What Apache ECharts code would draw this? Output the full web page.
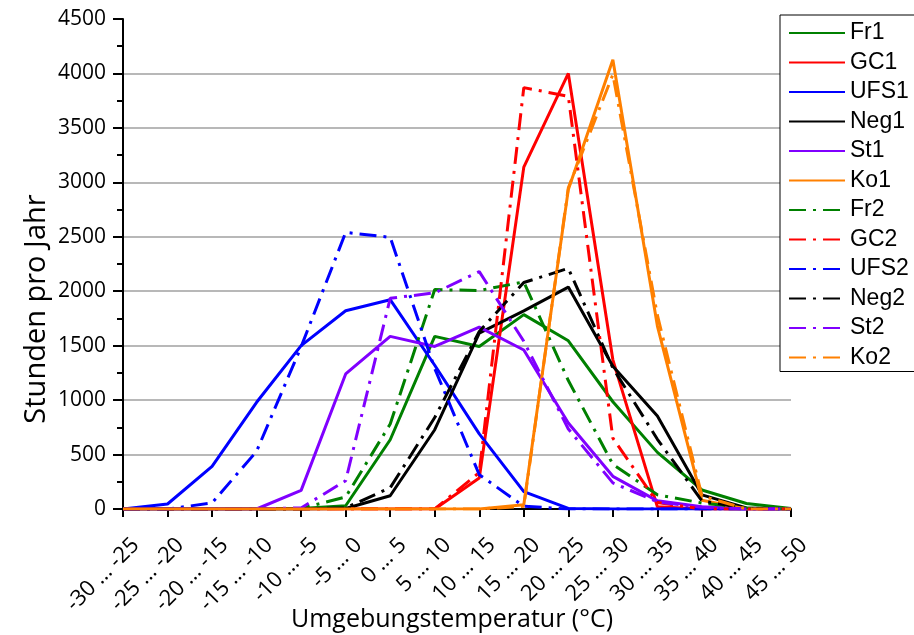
<!DOCTYPE html>
<html>
<head>
<meta charset="utf-8">
<script src="https://cdn.jsdelivr.net/npm/echarts@6/dist/echarts.min.js"></script>
<style>
html,body{margin:0;padding:0;background:#fff;}
#chart{width:914px;height:635px;}
</style>
</head>
<body>
<div id="chart"></div>
<script>
const categories = ["-30 … -25","-25 … -20","-20 … -15","-15 … -10","-10 … -5","-5 … 0","0 … 5","5 … 10","10 … 15","15 … 20","20 … 25","25 … 30","30 … 35","35 … 40","40 … 45","45 … 50"];
const yTicks = [0, 500, 1000, 1500, 2000, 2500, 3000, 3500, 4000, 4500];

const Fr1  = [0, 0, 0, 0, 5, 30, 636, 1585, 1493, 1785, 1545, 985, 520, 175, 50, 5];
const GC1  = [0, 0, 0, 0, 0, 0, 0, 0, 285, 3140, 4000, 1370, 20, 0, 0, 0];
const UFS1 = [0, 46, 391, 980, 1500, 1821, 1922, 1320, 690, 160, 5, 0, 0, 0, 0, 0];
const Neg1 = [0, 0, 0, 0, 0, 5, 122, 728, 1616, 1820, 2038, 1310, 855, 130, 10, 0];
const St1  = [0, 0, 0, 0, 171, 1240, 1585, 1493, 1671, 1460, 790, 300, 75, 20, 0, 0];
const Ko1  = [0, 0, 0, 0, 0, 0, 0, 0, 0, 40, 2935, 4126, 1680, 80, 0, 0];
const Fr2  = [0, 0, 0, 0, 5, 110, 780, 2015, 2007, 2085, 1180, 410, 130, 55, 10, 0];
const GC2  = [0, 0, 0, 0, 0, 0, 0, 0, 335, 3870, 3790, 650, 60, 0, 0, 0];
const UFS2 = [0, 0, 55, 530, 1490, 2540, 2495, 1290, 315, 25, 0, 0, 0, 0, 0, 0];
const Neg2 = [0, 0, 0, 0, 0, 10, 195, 840, 1630, 2080, 2210, 1295, 640, 75, 5, 0];
const St2  = [0, 0, 0, 0, 10, 260, 1935, 1985, 2180, 1540, 735, 240, 65, 15, 0, 0];
const Ko2  = [0, 0, 0, 0, 0, 0, 0, 0, 0, 25, 2950, 3990, 1780, 120, 0, 0];

const seriesNames = ["Fr1","GC1","UFS1","Neg1","St1","Ko1","Fr2","GC2","UFS2","Neg2","St2","Ko2"];
const seriesData = [Fr1, GC1, UFS1, Neg1, St1, Ko1, Fr2, GC2, UFS2, Neg2, St2, Ko2];
const seriesColors = ["#008000","#ff0000","#0000ff","#000000","#8000ff","#ff8000","#008000","#ff0000","#0000ff","#000000","#8000ff","#ff8000"];
const dashDot = [17, 7, 3, 7];

const chart = echarts.init(document.getElementById('chart'), null, {renderer: 'canvas'});
const fontMain = '"Open Sans", "Noto Sans", sans-serif';

const series = seriesNames.map((name, i) => ({
  name: name,
  type: 'line',
  data: seriesData[i],
  symbol: 'none',
  smooth: false,
  animation: false,
  lineStyle: {
    color: seriesColors[i],
    width: 3,
    type: i < 6 ? 'solid' : dashDot
  },
  itemStyle: {color: seriesColors[i]}
}));

chart.setOption({
  animation: false,
  backgroundColor: '#ffffff',
  grid: {left: 123, right: 123, top: 19, bottom: 126, containLabel: false, outerBoundsMode: 'none'},
  legend: {
    orient: 'vertical',
    left: 780,
    top: 15,
    data: seriesNames,
    backgroundColor: '#ffffff',
    borderColor: '#000000',
    borderWidth: 1,
    borderRadius: 0,
    padding: [6, 60, 2, 8],
    itemWidth: 56,
    itemHeight: 14,
    itemGap: 5.5,
    itemStyle: {opacity: 0, borderWidth: 0},
    textStyle: {fontFamily: 'Arial, "Liberation Sans", sans-serif', fontSize: 23, color: '#000', lineHeight: 24}
  },
  xAxis: {
    type: 'category',
    data: categories,
    boundaryGap: false,
    name: 'Umgebungstemperatur (°C)',
    nameLocation: 'middle',
    nameGap: 98,
    nameMoveOverlap: false,
    nameTextStyle: {fontFamily: fontMain, fontSize: 25, color: '#000', padding: [0, 10, 0, 0]},
    axisLine: {onZero: false, lineStyle: {color: '#000', width: 2}},
    axisTick: {show: true, inside: false, length: 8, alignWithLabel: true, lineStyle: {color: '#000', width: 2}},
    axisLabel: {interval: 0, rotate: 45, margin: 20, verticalAlign: 'top', padding: [7, 0, 0, 0], fontFamily: fontMain, fontSize: 22, color: '#000'},
    splitLine: {show: false}
  },
  yAxis: {
    type: 'value',
    min: yTicks[0],
    max: yTicks[yTicks.length - 1],
    interval: 500,
    name: 'Stunden pro Jahr',
    nameLocation: 'middle',
    nameGap: 72,
    nameMoveOverlap: false,
    nameTextStyle: {fontFamily: fontMain, fontSize: 29, color: '#000', padding: [0, 90, 0, 0]},
    axisLine: {show: true, lineStyle: {color: '#000', width: 2}},
    axisTick: {show: true, inside: false, length: 10, lineStyle: {color: '#000', width: 2}},
    minorTick: {show: true, splitNumber: 2, length: 6, lineStyle: {color: '#000', width: 2}},
    axisLabel: {margin: 17, fontFamily: fontMain, fontSize: 21, color: '#000', formatter: function (v) { return String(v); }},
    splitLine: {show: true, showMinLine: false, showMaxLine: false, lineStyle: {color: '#a0a0a0', width: 1.5}}
  },
  series: series
});
</script>
</body>
</html>
